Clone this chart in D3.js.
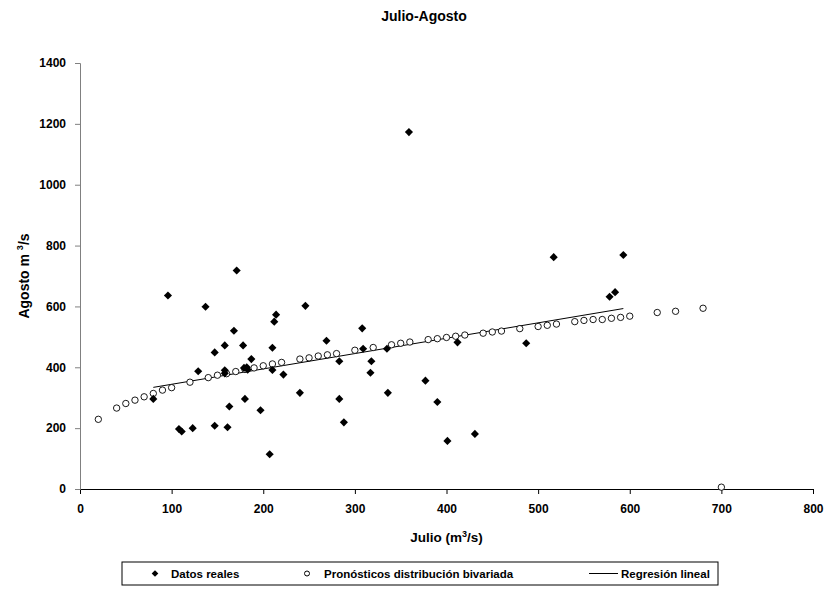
<!DOCTYPE html>
<html>
<head>
<meta charset="utf-8">
<script src="https://cdn.jsdelivr.net/npm/d3@7"></script>
<style>
  body { margin: 0; background: #fff; }
  text { font-family: 'Liberation Sans', Arial, sans-serif; font-weight: bold; }
</style>
</head>
<body>
<div id="chart"></div>
<script>
// Datos reales (Julio, Agosto)
const realJulio = [80, 96, 108, 111, 123, 129, 137, 147, 147, 158, 158, 158, 161, 163, 168, 171,
  178, 179, 182, 183, 180, 187, 197, 207, 210, 210, 212, 214, 222, 240, 246, 269,
  283, 283, 288, 308, 309, 317, 318, 335, 336, 359, 377, 390, 401, 412, 431, 487,
  517, 578, 584, 593]
const realAgosto = [296, 636, 197, 189, 200, 387, 599, 449, 208, 472, 390, 380, 203, 271, 520, 718,
  472, 398, 400, 392, 296, 427, 259, 114, 464, 391, 550, 573, 376, 316, 602, 487,
  420, 296, 219, 528, 461, 382, 420, 461, 316, 1173, 356, 286, 158, 482, 181, 479,
  762, 632, 647, 769]

// Pronósticos distribución bivariada
const pronJulio = [20, 40, 50, 60, 70, 80, 90, 100, 120, 140, 150, 160, 170, 180, 190, 200, 210, 220,
  240, 250, 260, 270, 280, 300, 320, 340, 350, 360, 380, 390, 400, 410, 420, 440, 450, 460,
  480, 500, 510, 520, 540, 550, 560, 570, 580, 590, 600, 630, 650, 680, 700]
const pronAgosto = [229, 266, 281, 292, 303, 314, 325, 333, 351, 366, 374, 379, 386, 393, 398, 405, 411, 416,
  427, 431, 437, 441, 445, 456, 465, 474, 479, 483, 491, 494, 498, 502, 506, 512, 516, 519,
  527, 534, 538, 542, 550, 554, 557, 557, 561, 564, 568, 580, 584, 594, 6]

// Regresión lineal (extremos)
const regJulio = [80, 593]
const regAgosto = [334, 593]

const xTicks = [0, 100, 200, 300, 400, 500, 600, 700, 800]
const yTicks = [0, 200, 400, 600, 800, 1000, 1200, 1400]
const legendLabels = ['Datos reales', 'Pronósticos distribución bivariada', 'Regresión lineal']

const W = 827
const H = 602
const margin = { top: 63, left: 80, right: 14, bottom: 113 }
const width = W - margin.left - margin.right
const height = H - margin.top - margin.bottom

const svgRoot = d3.select('#chart')
  .append('svg')
  .attr('width', W)
  .attr('height', H)

const svg = svgRoot.append('g')
  .attr('transform', 'translate(' + margin.left + ',' + margin.top + ')')

const xPositionScale = d3.scaleLinear().domain([0, 800]).range([0, width])
const yPositionScale = d3.scaleLinear().domain([0, 1400]).range([height, 0])

// title
svgRoot.append('text')
  .attr('x', 424)
  .attr('y', 21)
  .attr('text-anchor', 'middle')
  .attr('font-size', 14)
  .text('Julio-Agosto')

// axes
const xAxis = d3.axisBottom(xPositionScale).tickValues(xTicks).tickSize(5).tickPadding(10)
  .tickFormat(d3.format('d'))
const yAxis = d3.axisLeft(yPositionScale).tickValues(yTicks).tickSize(5).tickPadding(9)
  .tickFormat(d3.format('d'))

const xg = svg.append('g')
  .attr('class', 'axis x-axis')
  .attr('transform', 'translate(0,' + height + ')')
  .call(xAxis)
xg.selectAll('path, line').attr('stroke', '#000')

const yg = svg.append('g')
  .attr('class', 'axis y-axis')
  .call(yAxis)
yg.selectAll('path, line').attr('stroke', '#808080')

svg.selectAll('.axis text')
  .attr('font-size', 12)
  .attr('font-weight', 'bold')
  .attr('fill', '#000')
  .style('font-family', "'Liberation Sans', Arial, sans-serif")

// axis titles
const xTitle = svg.append('text')
  .attr('x', width / 2)
  .attr('y', height + 53)
  .attr('text-anchor', 'middle')
  .attr('font-size', 13.5)
xTitle.append('tspan').text('Julio (m')
xTitle.append('tspan').attr('font-size', 9).attr('dy', -5).text('3')
xTitle.append('tspan').attr('dy', 5).text('/s)')

const yTitle = svg.append('text')
  .attr('transform', 'translate(' + (-51) + ',' + (height / 2) + ') rotate(-90)')
  .attr('text-anchor', 'middle')
  .attr('font-size', 14)
yTitle.append('tspan').text('Agosto m ')
yTitle.append('tspan').attr('font-size', 9).attr('dy', -6).text('3')
yTitle.append('tspan').attr('dy', 6).text('/s')

// regression line
const line = d3.line()
  .x(d => xPositionScale(d[0]))
  .y(d => yPositionScale(d[1]))

svg.append('path')
  .datum(d3.zip(regJulio, regAgosto))
  .attr('d', line)
  .attr('fill', 'none')
  .attr('stroke', '#000')
  .attr('stroke-width', 1)

// forecast circles
svg.selectAll('.pron')
  .data(d3.zip(pronJulio, pronAgosto))
  .enter()
  .append('circle')
  .attr('class', 'pron')
  .attr('cx', d => xPositionScale(d[0]))
  .attr('cy', d => yPositionScale(d[1]))
  .attr('r', 3.2)
  .attr('fill', '#fff')
  .attr('stroke', '#000')
  .attr('stroke-width', 0.9)

// real data diamonds
const diamond = d3.symbol().type(d3.symbolDiamond2).size(42)
svg.selectAll('.real')
  .data(d3.zip(realJulio, realAgosto))
  .enter()
  .append('path')
  .attr('class', 'real')
  .attr('d', diamond)
  .attr('transform', d => 'translate(' + xPositionScale(d[0]) + ',' + yPositionScale(d[1]) + ')')
  .attr('fill', '#000')

// legend
const legend = svgRoot.append('g').attr('transform', 'translate(122,562)')
legend.append('rect')
  .attr('width', 596)
  .attr('height', 23)
  .attr('fill', '#fff')
  .attr('stroke', '#000')
  .attr('stroke-width', 1)

legend.append('path')
  .attr('d', d3.symbol().type(d3.symbolDiamond2).size(28))
  .attr('transform', 'translate(33,11.5)')
  .attr('fill', '#000')
legend.append('circle')
  .attr('cx', 185)
  .attr('cy', 11.5)
  .attr('r', 2.5)
  .attr('fill', '#fff')
  .attr('stroke', '#000')
legend.append('line')
  .attr('x1', 467).attr('x2', 496)
  .attr('y1', 11.5).attr('y2', 11.5)
  .attr('stroke', '#000')

const legendX = [49, 202, 499]
legend.selectAll('.legend-text')
  .data(legendLabels)
  .enter()
  .append('text')
  .attr('class', 'legend-text')
  .attr('x', (d, i) => legendX[i])
  .attr('y', 16)
  .attr('font-size', 11.5)
  .text(d => d)
</script>
</body>
</html>
